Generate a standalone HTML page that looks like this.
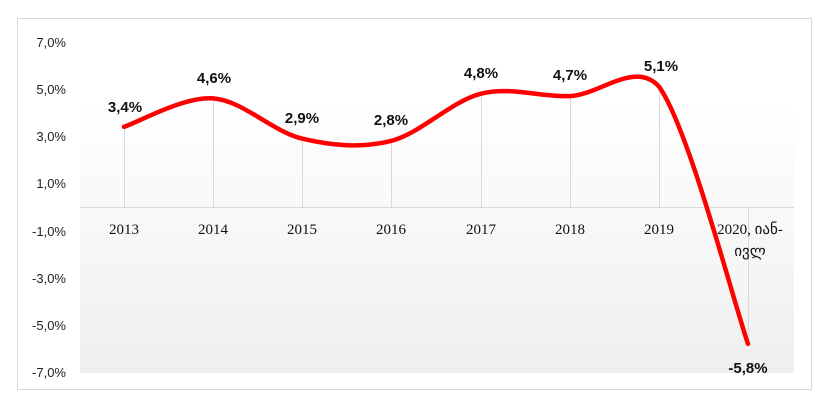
<!DOCTYPE html>
<html><head><meta charset="utf-8"><style>body{margin:0;background:#fff}</style></head><body>
<svg width="834" height="405" xmlns="http://www.w3.org/2000/svg">
<defs><linearGradient id="g" x1="0" y1="0" x2="0" y2="1"><stop offset="0" stop-color="#ffffff"/><stop offset="1" stop-color="#efefef"/></linearGradient></defs>
<rect x="17.5" y="18.5" width="794" height="371" fill="#fff" stroke="#d9d9d9"/>
<rect x="80" y="100" width="714" height="273" fill="url(#g)"/>
<rect x="80" y="40" width="714" height="60" fill="#fff"/>
<g stroke="#d9d9d9" stroke-width="1">
<line x1="80" y1="207.5" x2="794" y2="207.5"/>
<line x1="124.5" y1="127" x2="124.5" y2="207"/>
<line x1="213.5" y1="98" x2="213.5" y2="207"/>
<line x1="302.5" y1="139" x2="302.5" y2="207"/>
<line x1="391.5" y1="141" x2="391.5" y2="207"/>
<line x1="481.5" y1="94" x2="481.5" y2="207"/>
<line x1="570.5" y1="96" x2="570.5" y2="207"/>
<line x1="659.5" y1="87" x2="659.5" y2="207"/>
<line x1="748.5" y1="207" x2="748.5" y2="344"/>
</g>
<g font-family="Liberation Sans, sans-serif" font-size="13" fill="#222" text-anchor="end">
<text x="66" y="47">7,0%</text><text x="66" y="94">5,0%</text><text x="66" y="141">3,0%</text><text x="66" y="188">1,0%</text>
<text x="66" y="236">-1,0%</text><text x="66" y="283">-3,0%</text><text x="66" y="330">-5,0%</text><text x="66" y="377">-7,0%</text>
</g>
<g font-family="Liberation Serif, serif" font-size="15" fill="#111" text-anchor="middle">
<text x="124" y="234">2013</text><text x="213" y="234">2014</text><text x="302" y="234">2015</text><text x="391" y="234">2016</text>
<text x="481" y="234">2017</text><text x="570" y="234">2018</text><text x="659" y="234">2019</text>
<text x="750" y="234">2020, იან-</text><text x="750" y="256">ივლ</text>
</g>
<path d="M124,126.8 C138.8,122.1 183.3,96.4 213,98.4 C242.7,100.4 272.3,131.5 302,138.6 C331.7,145.7 361.2,148.4 391,140.9 C420.8,133.4 451.2,101.2 481,93.7 C510.8,86.2 540.3,97.3 570,96.1 C599.7,94.9 635,60 659,86.6 C688.7,127.9 733.2,301 748,343.9" fill="none" stroke="#ff0000" stroke-width="4.5" stroke-linecap="round"/>
<g font-family="Liberation Sans, sans-serif" font-size="15" font-weight="bold" fill="#111" text-anchor="middle">
<text x="125" y="112">3,4%</text><text x="214" y="83">4,6%</text><text x="302" y="123">2,9%</text><text x="391" y="125">2,8%</text>
<text x="481" y="78">4,8%</text><text x="570" y="80">4,7%</text><text x="661" y="71">5,1%</text><text x="748" y="373">-5,8%</text>
</g>
</svg>
</body></html>
